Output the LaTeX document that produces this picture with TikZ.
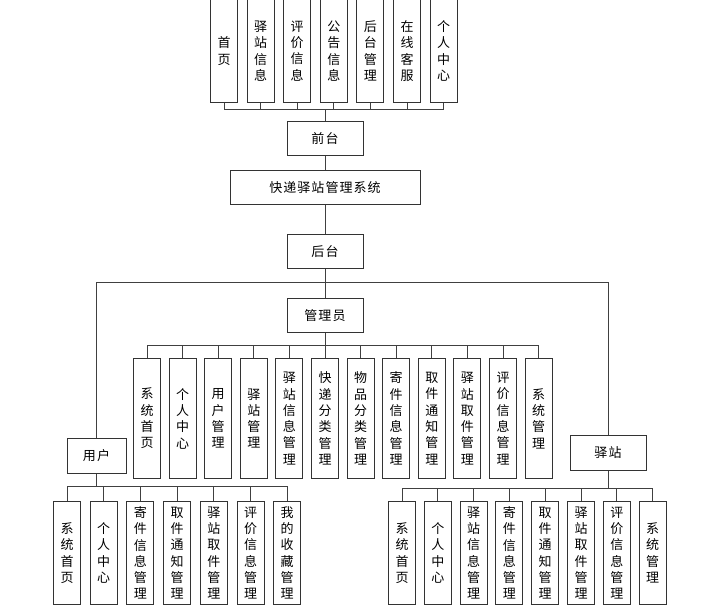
\documentclass[tikz,border=0pt]{standalone}
\usepackage{fontspec}
\newfontfamily\zhfont[LetterSpace=8]{Noto Sans CJK SC}
\usetikzlibrary{positioning}

\begin{document}
\begin{tikzpicture}[
  x=1pt, y=-1pt,
  font=\zhfont\fontsize{13pt}{16.3pt}\selectfont,
  box/.style={draw=black!80, line width=1pt, rectangle, align=center, inner sep=0pt, minimum width=76pt, minimum height=34pt},
  tall/.style={box, minimum width=27pt, minimum height=103pt},
  conn/.style={draw=black!75, line width=0.8pt}
]
\useasboundingbox (0,0) rectangle (723,609);

% Hauptachse
\node[box] (qiantai) at (325,139) {前台};
\node[box, minimum width=190pt, below=14pt of qiantai] (xitong) {快递驿站管理系统};
\node[box, below=29pt of xitong] (houtai) {后台};
\coordinate[below=13pt of houtai] (fenzhi);
\node[box, below=29pt of houtai] (guanli) {管理员};
\node[box, minimum width=59pt] (yonghu) at (96.5,456) {用户};
\node[box] (yizhan) at (608,453) {驿站};

% Frontend
\node[tall, anchor=north west] (q1) at (210,-1) {首\\页};
\node[tall, right=8.6pt of q1] (q2) {驿\\站\\信\\息};
\node[tall, right=8.6pt of q2] (q3) {评\\价\\信\\息};
\node[tall, right=8.6pt of q3] (q4) {公\\告\\信\\息};
\node[tall, right=8.6pt of q4] (q5) {后\\台\\管\\理};
\node[tall, right=8.6pt of q5] (q6) {在\\线\\客\\服};
\node[tall, right=8.6pt of q6] (q7) {个\\人\\中\\心};

% Admin
\node[tall, minimum height=120pt, anchor=north west] (g1) at (133,358) {系\\统\\首\\页};
\node[tall, minimum height=120pt, right=7.6pt of g1] (g2) {个\\人\\中\\心};
\node[tall, minimum height=120pt, right=7.6pt of g2] (g3) {用\\户\\管\\理};
\node[tall, minimum height=120pt, right=7.6pt of g3] (g4) {驿\\站\\管\\理};
\node[tall, minimum height=120pt, right=7.6pt of g4] (g5) {驿\\站\\信\\息\\管\\理};
\node[tall, minimum height=120pt, right=7.6pt of g5] (g6) {快\\递\\分\\类\\管\\理};
\node[tall, minimum height=120pt, right=7.6pt of g6] (g7) {物\\品\\分\\类\\管\\理};
\node[tall, minimum height=120pt, right=7.6pt of g7] (g8) {寄\\件\\信\\息\\管\\理};
\node[tall, minimum height=120pt, right=7.6pt of g8] (g9) {取\\件\\通\\知\\管\\理};
\node[tall, minimum height=120pt, right=7.6pt of g9] (g10) {驿\\站\\取\\件\\管\\理};
\node[tall, minimum height=120pt, right=7.6pt of g10] (g11) {评\\价\\信\\息\\管\\理};
\node[tall, minimum height=120pt, right=7.6pt of g11] (g12) {系\\统\\管\\理};

% Nutzer
\node[tall, anchor=north west] (u1) at (53,501) {系\\统\\首\\页};
\node[tall, right=8.7pt of u1] (u2) {个\\人\\中\\心};
\node[tall, right=8.7pt of u2] (u3) {寄\\件\\信\\息\\管\\理};
\node[tall, right=8.7pt of u3] (u4) {取\\件\\通\\知\\管\\理};
\node[tall, right=8.7pt of u4] (u5) {驿\\站\\取\\件\\管\\理};
\node[tall, right=8.7pt of u5] (u6) {评\\价\\信\\息\\管\\理};
\node[tall, right=8.7pt of u6] (u7) {我\\的\\收\\藏\\管\\理};

% Station
\node[tall, anchor=north west] (s1) at (388,501) {系\\统\\首\\页};
\node[tall, right=7.8pt of s1] (s2) {个\\人\\中\\心};
\node[tall, right=7.8pt of s2] (s3) {驿\\站\\信\\息\\管\\理};
\node[tall, right=7.8pt of s3] (s4) {寄\\件\\信\\息\\管\\理};
\node[tall, right=7.8pt of s4] (s5) {取\\件\\通\\知\\管\\理};
\node[tall, right=7.8pt of s5] (s6) {驿\\站\\取\\件\\管\\理};
\node[tall, right=7.8pt of s6] (s7) {评\\价\\信\\息\\管\\理};
\node[tall, right=7.8pt of s7] (s8) {系\\统\\管\\理};

% Verbindungen
\draw[conn] (qiantai.south) -- (xitong.north);
\draw[conn] (xitong.south) -- (houtai.north);
\draw[conn] (houtai.south) -- (guanli.north);
\draw[conn] (fenzhi) -| (yonghu.north);
\draw[conn] (fenzhi) -| (yizhan.north);
\foreach \i in {1,...,7}
  \draw[conn] (q\i.south) -- ++(0,6) -| (qiantai.north);
\foreach \i in {1,...,12}
  \draw[conn] (guanli.south) -- ++(0,12) -| (g\i.north);
\foreach \i in {1,...,7}
  \draw[conn] (yonghu.south) -- ++(0,13) -| (u\i.north);
\foreach \i in {1,...,8}
  \draw[conn] (yizhan.south) -- ++(0,18) -| (s\i.north);

\end{tikzpicture}
\end{document}
